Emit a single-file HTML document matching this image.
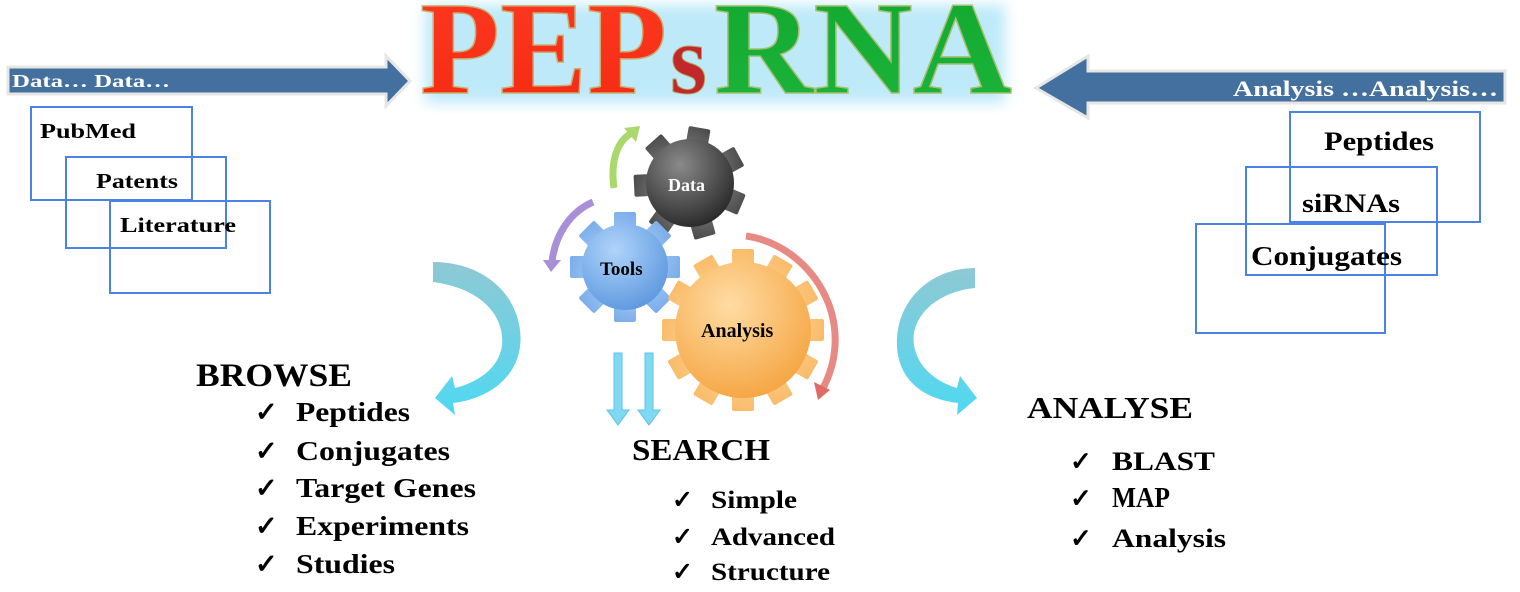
<!DOCTYPE html>
<html><head><meta charset="utf-8"><style>
html,body{margin:0;padding:0;background:#fff;width:1520px;height:592px;overflow:hidden}
svg{display:block}
text{font-family:"Liberation Serif",serif;font-weight:bold}
</style></head><body>
<svg width="1520" height="592" viewBox="0 0 1520 592" xmlns="http://www.w3.org/2000/svg">
<defs>
<linearGradient id="red" x1="0" y1="0" x2="0" y2="1"><stop offset="0" stop-color="#ff3a22"/><stop offset="1" stop-color="#f22a10"/></linearGradient>
<linearGradient id="grn" x1="0" y1="0" x2="0" y2="1"><stop offset="0" stop-color="#12a830"/><stop offset="1" stop-color="#1cb43a"/></linearGradient>
<radialGradient id="gd" gradientUnits="userSpaceOnUse" cx="680" cy="165" r="75"><stop offset="0" stop-color="#8a8a8a"/><stop offset="1" stop-color="#1a1a1a"/></radialGradient>
<radialGradient id="gb" gradientUnits="userSpaceOnUse" cx="615" cy="250" r="70"><stop offset="0" stop-color="#b0d4fb"/><stop offset="1" stop-color="#5592dc"/></radialGradient>
<radialGradient id="go" gradientUnits="userSpaceOnUse" cx="730" cy="305" r="100"><stop offset="0" stop-color="#ffdca4"/><stop offset="1" stop-color="#f5a440"/></radialGradient>
<linearGradient id="cy" x1="0" y1="0" x2="0" y2="1"><stop offset="0" stop-color="#8ec9d4"/><stop offset="1" stop-color="#4fd8f2"/></linearGradient>
<filter id="blur"><feGaussianBlur stdDeviation="7"/></filter>
</defs>

<!-- title glow -->
<rect x="425" y="5" width="580" height="98" fill="#bde9f9" filter="url(#blur)"/>
<text x="420" y="93" font-size="133" textLength="247" lengthAdjust="spacingAndGlyphs" fill="url(#red)" stroke="#c9b070" stroke-width="1.5">PEP</text>
<text x="670" y="93" font-size="100" textLength="37" lengthAdjust="spacingAndGlyphs" fill="#c0282a" stroke="#b8a060" stroke-width="1">s</text>
<text x="714" y="93" font-size="133" textLength="298" lengthAdjust="spacingAndGlyphs" fill="url(#grn)" stroke="#a8c070" stroke-width="1.5">RNA</text>

<!-- left big arrow -->
<polygon points="8,67 386,67 386,56 410,81 386,106 386,94 8,94" fill="#44709f" stroke="#e6e6e6" stroke-width="3"/>
<text x="12" y="87" font-size="18" fill="#fff" textLength="158" lengthAdjust="spacingAndGlyphs">Data…  Data…</text>
<!-- right big arrow -->
<polygon points="1505,71 1088,71 1088,56 1036,88 1088,118 1088,103 1505,103" fill="#44709f" stroke="#e6e6e6" stroke-width="3"/>
<text x="1233" y="96" font-size="22" fill="#fff" textLength="265" lengthAdjust="spacingAndGlyphs">Analysis …Analysis…</text>

<!-- boxes -->
<g fill="none" stroke="#4a82e8" stroke-width="2">
<rect x="31" y="107" width="161" height="93"/>
<rect x="66" y="157" width="160" height="91"/>
<rect x="110" y="201" width="160" height="92"/>
<rect x="1290" y="112" width="190" height="110"/>
<rect x="1246" y="167" width="191" height="108"/>
<rect x="1196" y="224" width="189" height="109"/>
</g>
<text x="40" y="138" font-size="21" textLength="96" lengthAdjust="spacingAndGlyphs">PubMed</text>
<text x="96" y="188" font-size="21" textLength="82" lengthAdjust="spacingAndGlyphs">Patents</text>
<text x="120" y="232" font-size="21" textLength="116" lengthAdjust="spacingAndGlyphs">Literature</text>
<text x="1324" y="150" font-size="26" textLength="110" lengthAdjust="spacingAndGlyphs">Peptides</text>
<text x="1302" y="212" font-size="26" textLength="98" lengthAdjust="spacingAndGlyphs">siRNAs</text>
<text x="1251" y="265" font-size="27" textLength="151" lengthAdjust="spacingAndGlyphs">Conjugates</text>

<!-- gear arrows -->
<path d="M614,188 C610,160 618,140 632,133" fill="none" stroke="#a8d96a" stroke-width="7"/>
<polygon points="624,128 640,126 636,142" fill="#a8d96a"/>
<path d="M593,202 C570,212 555,235 552,262" fill="none" stroke="#a98fd8" stroke-width="7"/>
<polygon points="543,260 561,260 551,272" fill="#a98fd8"/>
<path d="M746,236 C810,245 860,320 822,390" fill="none" stroke="#e88a84" stroke-width="7"/>
<polygon points="814,382 830,390 818,400" fill="#e06a66"/>

<!-- Data gear -->
<g fill="url(#gd)">
<g transform="rotate(10 690 183)">
<rect x="679" y="127" width="22" height="22" rx="2" transform="rotate(0 690 183)"/>
<rect x="679" y="127" width="22" height="22" rx="2" transform="rotate(51.4 690 183)"/>
<rect x="679" y="127" width="22" height="22" rx="2" transform="rotate(102.9 690 183)"/>
<rect x="679" y="127" width="22" height="22" rx="2" transform="rotate(154.3 690 183)"/>
<rect x="679" y="127" width="22" height="22" rx="2" transform="rotate(205.7 690 183)"/>
<rect x="679" y="127" width="22" height="22" rx="2" transform="rotate(257.1 690 183)"/>
<rect x="679" y="127" width="22" height="22" rx="2" transform="rotate(308.6 690 183)"/>
</g>
<circle cx="690" cy="183" r="44"/>
</g>
<text x="668" y="191" font-size="18" fill="#fff">Data</text>

<!-- Tools gear -->
<g fill="url(#gb)">
<rect x="614" y="212" width="22" height="20" rx="2" transform="rotate(0 625 267)"/>
<rect x="614" y="212" width="22" height="20" rx="2" transform="rotate(45 625 267)"/>
<rect x="614" y="212" width="22" height="20" rx="2" transform="rotate(90 625 267)"/>
<rect x="614" y="212" width="22" height="20" rx="2" transform="rotate(135 625 267)"/>
<rect x="614" y="212" width="22" height="20" rx="2" transform="rotate(180 625 267)"/>
<rect x="614" y="212" width="22" height="20" rx="2" transform="rotate(225 625 267)"/>
<rect x="614" y="212" width="22" height="20" rx="2" transform="rotate(270 625 267)"/>
<rect x="614" y="212" width="22" height="20" rx="2" transform="rotate(315 625 267)"/>
<circle cx="625" cy="267" r="43"/>
</g>
<text x="600" y="275" font-size="19" fill="#000">Tools</text>

<!-- Analysis gear -->
<g fill="url(#go)">
<rect x="732" y="249" width="22" height="22" rx="2" transform="rotate(0 743 330)"/>
<rect x="732" y="249" width="22" height="22" rx="2" transform="rotate(30 743 330)"/>
<rect x="732" y="249" width="22" height="22" rx="2" transform="rotate(60 743 330)"/>
<rect x="732" y="249" width="22" height="22" rx="2" transform="rotate(90 743 330)"/>
<rect x="732" y="249" width="22" height="22" rx="2" transform="rotate(120 743 330)"/>
<rect x="732" y="249" width="22" height="22" rx="2" transform="rotate(150 743 330)"/>
<rect x="732" y="249" width="22" height="22" rx="2" transform="rotate(180 743 330)"/>
<rect x="732" y="249" width="22" height="22" rx="2" transform="rotate(210 743 330)"/>
<rect x="732" y="249" width="22" height="22" rx="2" transform="rotate(240 743 330)"/>
<rect x="732" y="249" width="22" height="22" rx="2" transform="rotate(270 743 330)"/>
<rect x="732" y="249" width="22" height="22" rx="2" transform="rotate(300 743 330)"/>
<rect x="732" y="249" width="22" height="22" rx="2" transform="rotate(330 743 330)"/>
<circle cx="743" cy="330" r="68"/>
</g>
<text x="701" y="337" font-size="20" fill="#000">Analysis</text>

<!-- down arrows -->
<g fill="#7fd9f2" stroke="#5cc4e4" stroke-width="1">
<polygon points="614,353 622,353 622,410 629,410 618,425 607,410 614,410"/>
<polygon points="645,353 653,353 653,410 660,410 649,425 638,410 645,410"/>
</g>

<!-- curved cyan arrows -->
<path d="M433,262 L433,282 C480,288 505,315 502,345 C499,370 475,383 455,388 L452,376 L435,398 L455,415 L453,403 C495,398 525,370 520,330 C515,290 480,262 433,262 Z" fill="url(#cy)"/>
<path d="M975,268 L975,288 C935,292 910,318 914,345 C918,370 940,383 957,388 L960,376 L977,398 L957,415 L958,403 C915,398 895,372 897,338 C900,295 935,268 975,268 Z" fill="url(#cy)"/>

<!-- BROWSE -->
<text x="196" y="386" font-size="33" textLength="156" lengthAdjust="spacingAndGlyphs">BROWSE</text>
<g font-size="27">
<text x="255" y="421">✓</text><text x="296" y="421" textLength="114" lengthAdjust="spacingAndGlyphs">Peptides</text>
<text x="255" y="460">✓</text><text x="296" y="460" textLength="154" lengthAdjust="spacingAndGlyphs">Conjugates</text>
<text x="255" y="497">✓</text><text x="296" y="497" textLength="180" lengthAdjust="spacingAndGlyphs">Target Genes</text>
<text x="255" y="535">✓</text><text x="296" y="535" textLength="173" lengthAdjust="spacingAndGlyphs">Experiments</text>
<text x="255" y="573">✓</text><text x="296" y="573" textLength="99" lengthAdjust="spacingAndGlyphs">Studies</text>
</g>
<!-- SEARCH -->
<text x="632" y="460" font-size="31" textLength="138" lengthAdjust="spacingAndGlyphs">SEARCH</text>
<g font-size="25">
<text x="672" y="508">✓</text><text x="711" y="508" textLength="86" lengthAdjust="spacingAndGlyphs">Simple</text>
<text x="672" y="545">✓</text><text x="711" y="545" textLength="124" lengthAdjust="spacingAndGlyphs">Advanced</text>
<text x="672" y="580">✓</text><text x="711" y="580" textLength="119" lengthAdjust="spacingAndGlyphs">Structure</text>
</g>
<!-- ANALYSE -->
<text x="1027" y="418" font-size="31" textLength="166" lengthAdjust="spacingAndGlyphs">ANALYSE</text>
<g font-size="26">
<text x="1070" y="470">✓</text><text x="1112" y="470" textLength="103" lengthAdjust="spacingAndGlyphs">BLAST</text>
<text x="1070" y="507">✓</text><text x="1112" y="507" font-size="28" textLength="58" lengthAdjust="spacingAndGlyphs">MAP</text>
<text x="1070" y="547">✓</text><text x="1112" y="547" textLength="114" lengthAdjust="spacingAndGlyphs">Analysis</text>
</g>
</svg>
</body></html>
